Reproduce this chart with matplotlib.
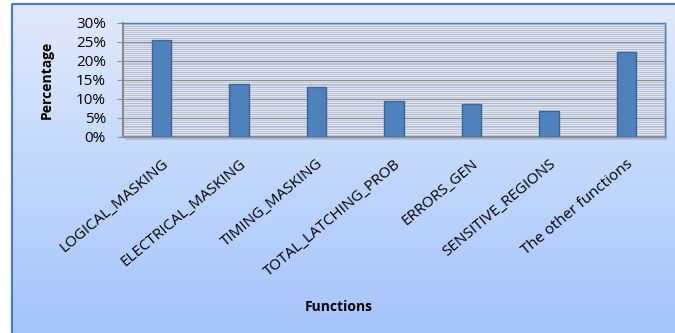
import numpy as np
import matplotlib
matplotlib.use("Agg")
import matplotlib.pyplot as plt
from matplotlib.patches import Rectangle
from matplotlib.ticker import PercentFormatter

categories = ["LOGICAL_MASKING", "ELECTRICAL_MASKING", "TIMING_MASKING",
              "TOTAL_LATCHING_PROB", "ERRORS_GEN", "SENSITIVE_REGIONS",
              "The other functions"]
percentages = [25.5, 14.0, 13.0, 9.5, 8.7, 6.9, 22.4]
y_ticks = [0, 5, 10, 15, 20, 25, 30]

plt.rcParams["font.family"] = ["Open Sans", "DejaVu Sans"]

W, H = 675, 333
fig = plt.figure(figsize=(W / 100, H / 100), dpi=100)
fig.patch.set_facecolor("white")

# Chart area: framed panel with a vertical blue gradient
bg = fig.add_axes([0, 0, 1, 1], zorder=0)
bg.set_xlim(0, W)
bg.set_ylim(H, 0)
bg.axis("off")
t = np.linspace(0, 1, 256)[:, None, None]
top_c = np.array([0.882, 0.918, 0.988])[None, None, :]
bot_c = np.array([0.647, 0.769, 0.988])[None, None, :]
img = top_c + (bot_c - top_c) * t
bg.imshow(img, extent=[12, W + 2, H + 2, 4], aspect="auto", zorder=0)
bg.add_patch(Rectangle((12, 4), W, H, fill=False, edgecolor="#4a7ebb",
                       linewidth=1.6, zorder=1))

# Plot area with a soft shadow
ax_l, ax_r, ax_t, ax_b = 123, 665, 22.5, 137
bg.add_patch(Rectangle((ax_l + 2, ax_t + 3), ax_r - ax_l, ax_b - ax_t,
                       facecolor="#8a99b3", edgecolor="none", alpha=0.45, zorder=1))

ax = fig.add_axes([ax_l / W, 1 - ax_b / H, (ax_r - ax_l) / W, (ax_b - ax_t) / H], zorder=2)
ax.set_facecolor("#eef2f9")

# Fine horizontal hatching of the plot area
fine = np.arange(0.5, 30, 0.5)
ax.hlines(fine[fine % 1 != 0], -0.5, len(categories) - 0.5,
          colors="#b9c9e6", linewidth=0.9, zorder=1)
ax.hlines(fine[(fine % 1 == 0) & (fine % 5 != 0)], -0.5, len(categories) - 0.5,
          colors="#b7bcc6", linewidth=0.9, zorder=1)

x = np.arange(len(categories))
ax.bar(x, percentages, width=0.25, color="#4f81bd", edgecolor="#3a6595",
       linewidth=1.0, zorder=3)

ax.set_xlim(-0.5, len(categories) - 0.5)
ax.set_ylim(0, 30)
ax.set_yticks(y_ticks)
ax.yaxis.set_major_formatter(PercentFormatter(decimals=0))
ax.grid(axis="y", which="major", color="#8c8c8c", linewidth=1.0, zorder=2)

ax.set_xticks(x)
ax.set_xticklabels(categories, rotation=40, ha="right", va="top",
                   rotation_mode="anchor", fontsize=11)
ax.tick_params(axis="x", length=0, pad=14)
ax.tick_params(axis="y", which="major", length=4.3, color="#8c8c8c",
               labelsize=11, pad=8)

for side in ("left", "bottom"):
    ax.spines[side].set_color("#8c8c8c")
    ax.spines[side].set_linewidth(1.5)
for side in ("top", "right"):
    ax.spines[side].set_color("#4a7ebb")
    ax.spines[side].set_linewidth(1.0)

fig.text(47 / W, 1 - 80 / H, "Percentage", fontsize=10, fontweight="bold",
         rotation=90, ha="center", va="center")
fig.text(339 / W, 1 - 307 / H, "Functions", fontsize=10, fontweight="bold",
         ha="center", va="center")

fig.savefig("out.png", dpi=100)
